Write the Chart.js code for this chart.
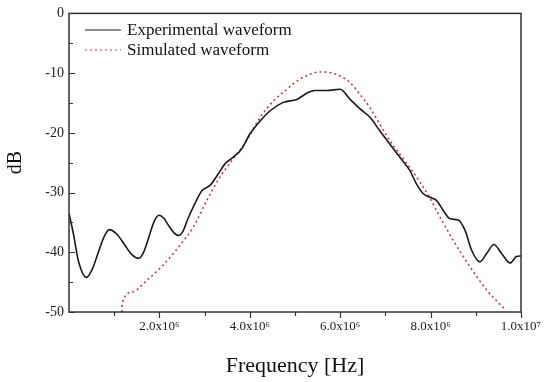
<!DOCTYPE html>
<html>
<head>
<meta charset="utf-8">
<script src="https://cdn.jsdelivr.net/npm/chart.js@4/dist/chart.umd.min.js"></script>
<style>
  html, body { margin: 0; padding: 0; background: #fff; }
  #wrap { width: 550px; height: 382px; }
</style>
</head>
<body>
<div id="wrap"><canvas id="chart" width="550" height="382"></canvas></div>
<script>
// Données (fréquence en unités de 1e6 Hz, niveau en dB)
const expFreq = [0.00, 0.10, 0.21, 0.39, 0.51, 0.64, 0.77, 0.89, 1.05, 1.22, 1.38, 1.54, 1.65, 1.77, 1.88, 1.99, 2.10, 2.20, 2.32, 2.42, 2.52, 2.62, 2.75, 2.94, 3.12, 3.30, 3.45, 3.63, 3.82, 4.00, 4.23, 4.45, 4.74, 5.04, 5.30, 5.44, 5.70, 6.00, 6.22, 6.44, 6.66, 6.88, 7.10, 7.32, 7.54, 7.69, 7.84, 7.99, 8.13, 8.28, 8.43, 8.61, 8.76, 8.91, 9.09, 9.24, 9.40, 9.57, 9.76, 9.90, 10.00];
const expDb   = [-33.5, -37.0, -41.5, -44.2, -42.9, -40.2, -37.5, -36.2, -36.9, -38.6, -40.3, -41.0, -40.0, -37.4, -34.9, -33.8, -34.3, -35.5, -36.7, -37.2, -36.5, -34.6, -32.4, -29.7, -28.8, -26.9, -25.2, -24.1, -22.7, -20.2, -18.0, -16.3, -14.9, -14.4, -13.2, -12.9, -12.9, -12.7, -14.4, -16.0, -17.4, -19.7, -21.9, -24.1, -26.3, -28.6, -30.2, -30.8, -31.3, -33.0, -34.4, -34.6, -36.3, -39.7, -41.6, -40.2, -38.7, -40.2, -41.8, -40.7, -40.6];

const simFreq = [1.17, 1.18, 1.42, 1.72, 2.01, 2.31, 2.46, 2.75, 3.05, 3.34, 3.63, 3.93, 4.23, 4.52, 4.82, 5.11, 5.33, 5.55, 5.77, 6.00, 6.22, 6.44, 6.66, 6.88, 7.10, 7.32, 7.54, 7.77, 7.99, 8.13, 8.50, 8.87, 9.24, 9.65];
const simDb   = [-50.0, -48.4, -46.6, -44.7, -42.7, -40.2, -38.8, -35.8, -31.3, -27.4, -24.4, -21.3, -17.4, -14.7, -12.7, -11.0, -10.2, -9.8, -9.9, -10.5, -11.6, -13.6, -15.8, -18.6, -21.3, -23.6, -25.8, -28.3, -31.0, -33.0, -38.0, -42.4, -46.3, -49.6];

const xTicks = [1e6, 2e6, 3e6, 4e6, 5e6, 6e6, 7e6, 8e6, 9e6, 1e7];
const xTickLabels = { 2e6: '2.0x10\u2076', 4e6: '4.0x10\u2076', 6e6: '6.0x10\u2076', 8e6: '8.0x10\u2076', 1e7: '1.0x10\u2077' };
const yTicks = [0, -5, -10, -15, -20, -25, -30, -35, -40, -45, -50];

const seriesNames = ['Experimental waveform', 'Simulated waveform'];

const AXIS_COLOR = '#333';
const SERIF = '"Liberation Serif", "Times New Roman", serif';

const toPoints = (xs, ys) => xs.map((f, i) => ({ x: f * 1e6, y: ys[i] }));

// Cadre complet, graduations (y vers l'intérieur, x vers l'extérieur) et légende
const framePlugin = {
    id: 'frame',
    afterDatasetsDraw(chart) {
        const { ctx, chartArea: a, scales: { x, y } } = chart;
        ctx.save();
        ctx.strokeStyle = AXIS_COLOR;
        ctx.lineWidth = 1.5;
        ctx.strokeRect(a.left, a.top, a.right - a.left, a.bottom - a.top);

        ctx.lineWidth = 1.2;
        ctx.beginPath();
        yTicks.forEach(v => {
            const py = Math.round(y.getPixelForValue(v)) + 0.5;
            const len = v % 10 === 0 ? 6 : 4;
            ctx.moveTo(a.left, py);
            ctx.lineTo(a.left + len, py);
        });
        xTicks.forEach(v => {
            const px = Math.round(x.getPixelForValue(v)) + 0.5;
            const len = v % 2e6 === 0 ? 6 : 4;
            ctx.moveTo(px, a.bottom);
            ctx.lineTo(px, a.bottom + len);
        });
        ctx.stroke();

        // Légende
        const ds = chart.data.datasets;
        const rows = [30, 50];
        ctx.font = '17px ' + SERIF;
        ctx.textBaseline = 'middle';
        ctx.fillStyle = '#111';
        ds.forEach((d, i) => {
            ctx.save();
            ctx.strokeStyle = d.borderColor;
            ctx.lineWidth = d.borderWidth - 0.4;
            ctx.setLineDash(d.borderDash || []);
            ctx.beginPath();
            ctx.moveTo(85, rows[i]);
            ctx.lineTo(121, rows[i]);
            ctx.stroke();
            ctx.restore();
            ctx.fillText(d.label, 127, rows[i] + 1);
        });
        ctx.restore();
    }
};

const ctx = document.getElementById('chart').getContext('2d');
new Chart(ctx, {
    type: 'line',
    data: {
        datasets: [{
            label: seriesNames[0],
            data: toPoints(expFreq, expDb),
            borderColor: '#1a1a1a',
            borderWidth: 1.6,
            cubicInterpolationMode: 'monotone',
            pointRadius: 0,
            fill: false
        }, {
            label: seriesNames[1],
            data: toPoints(simFreq, simDb),
            borderColor: '#c23a48',
            borderWidth: 1.6,
            borderDash: [2, 3],
            cubicInterpolationMode: 'monotone',
            pointRadius: 0,
            fill: false
        }]
    },
    options: {
        responsive: false,
        animation: false,
        devicePixelRatio: 1,
        layout: { padding: { top: 12, right: 29, bottom: 0, left: 0 } },
        plugins: {
            legend: { display: false },
            tooltip: { enabled: false }
        },
        scales: {
            x: {
                type: 'linear',
                min: 0,
                max: 1e7,
                afterBuildTicks: (scale) => { scale.ticks = xTicks.map(v => ({ value: v })); },
                afterFit: (scale) => { scale.height = 70; },
                grid: { display: false, drawTicks: false },
                border: { display: false },
                ticks: {
                    padding: 7,
                    maxRotation: 0,
                    autoSkip: false,
                    color: '#222',
                    font: { family: SERIF, size: 13 },
                    callback: (v) => xTickLabels[v] || ''
                },
                title: {
                    display: true,
                    text: 'Frequency [Hz]',
                    color: '#111',
                    font: { family: SERIF, size: 22 },
                    padding: { top: 0, bottom: 3 }
                }
            },
            y: {
                min: -50,
                max: 0,
                afterBuildTicks: (scale) => { scale.ticks = yTicks.map(v => ({ value: v })); },
                afterFit: (scale) => { scale.width = 69; },
                grid: { display: false, drawTicks: false },
                border: { display: false },
                ticks: {
                    padding: 5,
                    color: '#222',
                    font: { family: SERIF, size: 14 },
                    callback: (v) => (v % 10 === 0 ? String(v) : '')
                },
                title: {
                    display: true,
                    text: 'dB',
                    color: '#111',
                    font: { family: SERIF, size: 20 },
                    padding: { top: 4, bottom: 0 }
                }
            }
        }
    },
    plugins: [framePlugin]
});
</script>
</body>
</html>
